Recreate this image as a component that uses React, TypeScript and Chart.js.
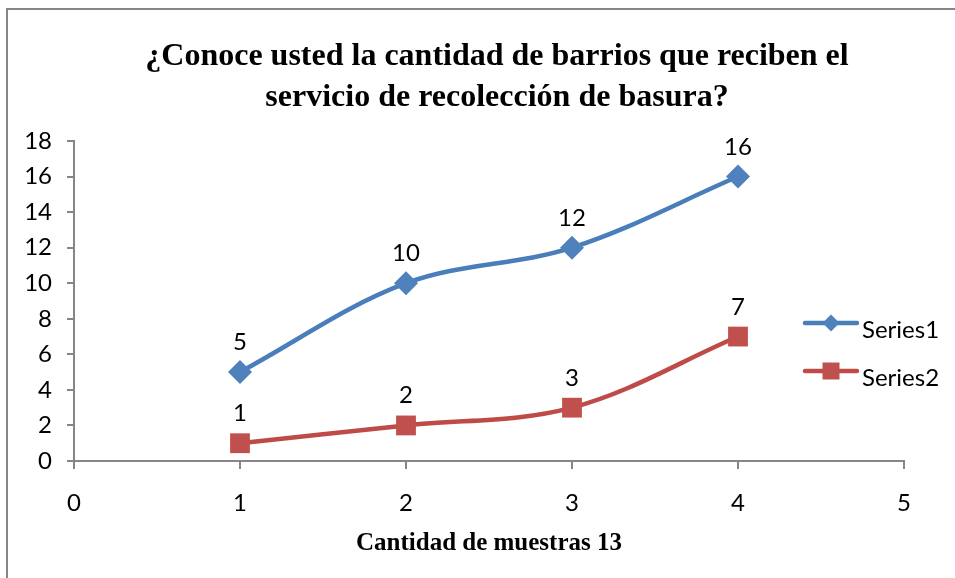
import React, { useEffect, useRef } from 'react';
import { Chart, registerables } from 'chart.js';

Chart.register(...registerables);

// ---- Data ----
const xValues = [1, 2, 3, 4];
const series1 = [5, 10, 12, 16];
const series2 = [1, 2, 3, 7];
const seriesNames = ['Series1', 'Series2'];
const titleLines = [
  '¿Conoce usted la cantidad de barrios que reciben el',
  'servicio de recolección de basura?',
];
const xAxisTitle = 'Cantidad de muestras 13';
const xMin = 0;
const xMax = 5;
const yMin = 0;
const yMax = 18;
const yStep = 2;

// ---- Styles ----
const BLUE_LINE = '#4A7EBB';
const BLUE_MARK = '#4F81BD';
const RED_LINE = '#BE4B48';
const RED_MARK = '#C0504D';
const AXIS = '#868686';
const SANS = 'Lato, "Open Sans", sans-serif';
const SERIF = '"Liberation Serif", "Times New Roman", serif';
const LABEL_SIZE = 24;

function drawMarker(ctx: CanvasRenderingContext2D, style: string, x: number, y: number, size: number, color: string) {
  ctx.save();
  ctx.fillStyle = color;
  ctx.beginPath();
  if (style === 'diamond') {
    ctx.moveTo(x - size / 2, y);
    ctx.lineTo(x, y - size / 2);
    ctx.lineTo(x + size / 2, y);
    ctx.lineTo(x, y + size / 2);
    ctx.closePath();
  } else {
    ctx.rect(x - size / 2, y - size / 2, size, size);
  }
  ctx.fill();
  ctx.restore();
}

const decorPlugin = {
  id: 'decor',
  beforeDraw(chart: any) {
    const ctx = chart.ctx as CanvasRenderingContext2D;
    ctx.save();
    ctx.fillStyle = '#ffffff';
    ctx.fillRect(0, 0, chart.width, chart.height);
    ctx.strokeStyle = AXIS;
    ctx.lineWidth = 2;
    ctx.strokeRect(7, 9, chart.width + 20, chart.height + 20);
    ctx.restore();
  },
  afterDatasetsDraw(chart: any) {
    const ctx = chart.ctx as CanvasRenderingContext2D;
    ctx.save();
    ctx.fillStyle = '#000';
    ctx.font = `${LABEL_SIZE}px ${SANS}`;
    ctx.textAlign = 'center';
    ctx.textBaseline = 'alphabetic';
    chart.data.datasets.forEach((ds: any, i: number) => {
      const meta = chart.getDatasetMeta(i);
      meta.data.forEach((el: any, j: number) => {
        ctx.fillText(String(ds.data[j].y), el.x, el.y - 22);
      });
    });
    ctx.restore();
  },
  afterDraw(chart: any) {
    const ctx = chart.ctx as CanvasRenderingContext2D;
    const area = chart.chartArea;
    ctx.save();
    ctx.fillStyle = '#000';
    ctx.textAlign = 'center';
    ctx.textBaseline = 'alphabetic';
    // Title
    ctx.font = `bold 32px ${SERIF}`;
    ctx.fillText(titleLines[0], 497, 65);
    ctx.fillText(titleLines[1], 497, 106);
    // X axis title
    ctx.font = `bold 25px ${SERIF}`;
    ctx.fillText(xAxisTitle, (area.left + area.right) / 2, 550);
    // Legend
    const items = [
      { name: seriesNames[0], line: BLUE_LINE, mark: BLUE_MARK, style: 'diamond', y: 323, size: 17 },
      { name: seriesNames[1], line: RED_LINE, mark: RED_MARK, style: 'square', y: 371, size: 17 },
    ];
    ctx.textAlign = 'left';
    ctx.font = `${LABEL_SIZE}px ${SANS}`;
    items.forEach((it) => {
      ctx.strokeStyle = it.line;
      ctx.lineWidth = 4.5;
      ctx.lineCap = 'round';
      ctx.beginPath();
      ctx.moveTo(805, it.y);
      ctx.lineTo(857, it.y);
      ctx.stroke();
      drawMarker(ctx, it.style, 831, it.y, it.size, it.mark);
      ctx.fillStyle = '#000';
      ctx.fillText(it.name, 862, it.y + 15);
    });
    ctx.restore();
  },
};

export default function App() {
  const canvasRef = useRef<HTMLCanvasElement | null>(null);

  useEffect(() => {
    if (!canvasRef.current) return;
    const chart = new Chart(canvasRef.current, {
      type: 'scatter',
      data: {
        datasets: [
          {
            label: seriesNames[0],
            data: xValues.map((x, i) => ({ x, y: series1[i] })),
            showLine: true,
            borderColor: BLUE_LINE,
            backgroundColor: BLUE_MARK,
            borderWidth: 4.5,
            tension: 0.35,
            borderCapStyle: 'round',
            borderJoinStyle: 'round',
            pointStyle: 'rectRot',
            pointRadius: 12,
            pointBorderWidth: 0,
            pointBackgroundColor: BLUE_MARK,
          },
          {
            label: seriesNames[1],
            data: xValues.map((x, i) => ({ x, y: series2[i] })),
            showLine: true,
            borderColor: RED_LINE,
            backgroundColor: RED_MARK,
            borderWidth: 4.5,
            tension: 0.35,
            borderCapStyle: 'round',
            borderJoinStyle: 'round',
            pointStyle: 'rect',
            pointRadius: 14,
            pointBorderWidth: 0,
            pointBackgroundColor: RED_MARK,
          },
        ],
      },
      options: {
        animation: false,
        responsive: false,
        events: [],
        layout: { padding: { top: 141, right: 51, left: 0, bottom: 0 } },
        plugins: {
          legend: { display: false },
          title: { display: false },
          tooltip: { enabled: false },
        },
        scales: {
          x: {
            type: 'linear',
            min: xMin,
            max: xMax,
            ticks: {
              stepSize: 1,
              color: '#000',
              font: { family: SANS, size: LABEL_SIZE },
              padding: 20,
              maxRotation: 0,
            },
            grid: {
              display: true,
              drawOnChartArea: false,
              drawTicks: true,
              tickLength: 8,
              color: AXIS,
              lineWidth: 2,
            },
            border: { display: true, color: AXIS, width: 2 },
            afterFit: (scale: any) => {
              scale.height = 117;
            },
          },
          y: {
            type: 'linear',
            min: yMin,
            max: yMax,
            ticks: {
              stepSize: yStep,
              color: '#000',
              font: { family: SANS, size: LABEL_SIZE },
              padding: 15,
            },
            grid: {
              display: true,
              drawOnChartArea: false,
              drawTicks: true,
              tickLength: 7,
              color: AXIS,
              lineWidth: 2,
            },
            border: { display: true, color: AXIS, width: 2 },
            afterFit: (scale: any) => {
              scale.width = 74;
            },
          },
        },
      },
      plugins: [decorPlugin],
    });

    let alive = true;
    if ((document as any).fonts) {
      Promise.all([
        document.fonts.load(`${LABEL_SIZE}px Lato`),
        document.fonts.load(`bold 32px "Liberation Serif"`),
      ])
        .then(() => {
          if (alive) chart.update();
        })
        .catch(() => {});
    }
    return () => {
      alive = false;
      chart.destroy();
    };
  }, []);

  return (
    <div style={{ position: 'fixed', left: 0, top: 0, width: 955, height: 578, background: '#fff' }}>
      <canvas ref={canvasRef} width={955} height={578} style={{ display: 'block', width: 955, height: 578 }} />
    </div>
  );
}
